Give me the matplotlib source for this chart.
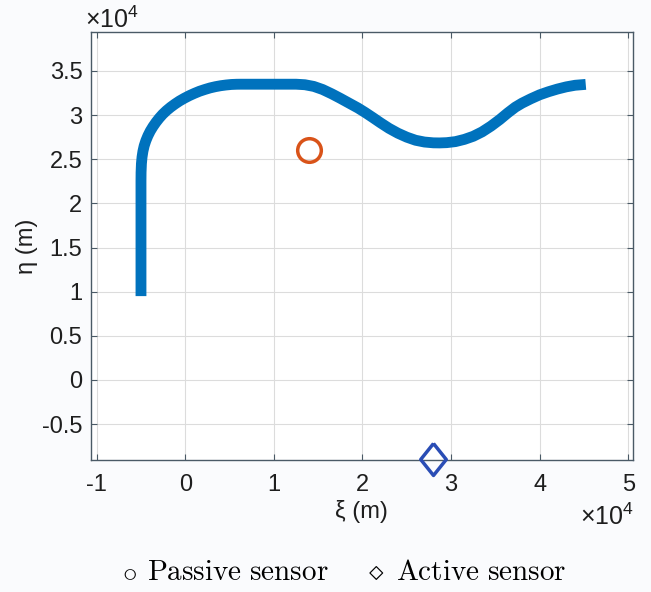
import matplotlib
matplotlib.use('Agg')
import matplotlib.pyplot as plt
from matplotlib.ticker import FuncFormatter

plt.rcParams['font.family'] = ['Liberation Sans', 'DejaVu Sans']
plt.rcParams['mathtext.fontset'] = 'custom'
plt.rcParams['mathtext.rm'] = 'Liberation Sans'
plt.rcParams['mathtext.it'] = 'Liberation Sans:italic'

# trajectory (m)
traj_x = [-5000, -5000, -4990, -4950, -4880, -4780, -4640, -4450, -4220, -3950,
          -3640, -3300, -2940, -2550, -2120, -1650, -1160, -650, -110, 450,
          1020, 1600, 2200, 2800, 3400, 4000, 4600, 5200, 5800, 6300,
          12500, 13500, 14500, 15500, 16550, 17500, 18500, 19500, 20300, 21200,
          22000, 23000, 24000, 25000, 26000, 27000, 28000, 28700, 29500, 30500,
          31500, 32500, 33500, 34500, 35500, 36400, 37250, 38000, 39000, 40000,
          41000, 42000, 43000, 44000, 45200]
traj_y = [9500, 22500, 23500, 24500, 25250, 25900, 26520, 27100, 27660, 28200,
          28710, 29200, 29660, 30100, 30510, 30900, 31260, 31600, 31910, 32200,
          32460, 32700, 32900, 33080, 33220, 33330, 33410, 33470, 33495, 33500,
          33500, 33440, 33250, 32900, 32400, 31900, 31350, 30800, 30300, 29700,
          29150, 28500, 27950, 27500, 27150, 26950, 26860, 26850, 26880, 27000,
          27250, 27600, 28100, 28750, 29500, 30250, 30900, 31350, 31850, 32300,
          32650, 32950, 33200, 33380, 33480]

passive_x, passive_y = [14000], [26000]
active_x, active_y = [28000], [-9000]

xticks = [-10000, 0, 10000, 20000, 30000, 40000, 50000]
yticks = [-5000, 0, 5000, 10000, 15000, 20000, 25000, 30000, 35000]

fig = plt.figure(figsize=(6.51, 5.92), dpi=100)
fig.patch.set_facecolor('#fafbfd')
ax = fig.add_axes([0.1393, 0.2230, 0.8326, 0.7235])

ax.plot(traj_x, traj_y, color='#0072BD', linewidth=7.8, solid_capstyle='butt',
        solid_joinstyle='round')
ax.plot(passive_x, passive_y, 'o', markersize=17, markerfacecolor='none',
        markeredgecolor='#D95319', markeredgewidth=2.5)
# MATLAB diamond is taller than wide
diamond = [(0, 1.25), (1, 0), (0, -1.25), (-1, 0), (0, 1.25)]
ax.plot(active_x, active_y, marker=diamond, linestyle='none', markersize=23,
        markerfacecolor='none', markeredgecolor='#2a4db5', markeredgewidth=2.5,
        clip_on=False, zorder=5)

ax.set_xlim(-10677, 50500)
ax.set_ylim(-9060, 39450)
ax.set_xticks(xticks)
ax.set_yticks(yticks)
fmt = FuncFormatter(lambda v, p: '%g' % (v / 1e4))
ax.xaxis.set_major_formatter(fmt)
ax.yaxis.set_major_formatter(fmt)

ax.grid(True, color='#dcdcdc', linewidth=0.8)
ax.set_axisbelow(True)
for s in ax.spines.values():
    s.set_color('#4a5a66')
    s.set_linewidth(1.0)
ax.tick_params(direction='in', length=4, width=0.8, color='#4a5a66',
               labelsize=17, labelcolor='#1e1e1e', top=True, right=True)
ax.tick_params(axis='x', pad=10)
ax.tick_params(axis='y', pad=6)

ax.set_xlabel('ξ (m)', fontsize=17, color='#1e1e1e', labelpad=3)
ax.set_ylabel('η (m)', fontsize=17, color='#1e1e1e', labelpad=3)

fig.text(0.131, 0.953, r'$\times10^{4}$', fontsize=18, color='#1e1e1e',
         ha='left', va='baseline')
fig.text(0.974, 0.114, r'$\times10^{4}$', fontsize=18, color='#1e1e1e',
         ha='right', va='baseline')

# legend row under the plot
fig.text(0.199, 0.02, r'$\circ$', fontsize=21, math_fontfamily='cm',
         ha='center', va='baseline')
fig.text(0.226, 0.02, r'$\mathrm{Passive\ sensor}$', fontsize=21,
         math_fontfamily='cm', ha='left', va='baseline')
fig.text(0.578, 0.02, r'$\diamond$', fontsize=21, math_fontfamily='cm',
         ha='center', va='baseline')
fig.text(0.609, 0.02, r'$\mathrm{Active\ sensor}$', fontsize=21,
         math_fontfamily='cm', ha='left', va='baseline')

fig.savefig('out.png', dpi=100, facecolor=fig.get_facecolor())
